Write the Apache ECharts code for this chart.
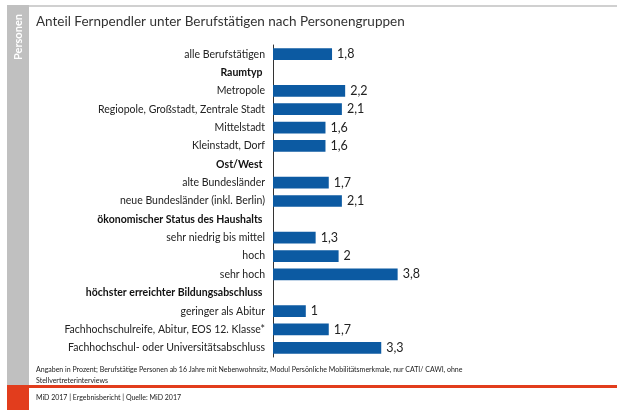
<!DOCTYPE html>
<html>
<head>
<meta charset="utf-8">
<script src="https://cdn.jsdelivr.net/npm/echarts@6/dist/echarts.min.js"></script>
<style>
  html, body { margin: 0; padding: 0; background: #fff; }
  #chart { width: 617px; height: 410px; }
</style>
</head>
<body>
<div id="chart"></div>
<script>
// categories from top to bottom; group headers have no value
const categories = [
  'alle Berufstätigen',
  'Raumtyp',
  'Metropole',
  'Regiopole, Großstadt, Zentrale Stadt',
  'Mittelstadt',
  'Kleinstadt, Dorf',
  'Ost/West',
  'alte Bundesländer',
  'neue Bundesländer (inkl. Berlin)',
  'ökonomischer Status des Haushalts',
  'sehr niedrig bis mittel',
  'hoch',
  'sehr hoch',
  'höchster erreichter Bildungsabschluss',
  'geringer als Abitur',
  'Fachhochschulreife, Abitur, EOS 12. Klasse*',
  'Fachhochschul- oder Universitätsabschluss'
];
const headers = ['Raumtyp', 'Ost/West', 'ökonomischer Status des Haushalts', 'höchster erreichter Bildungsabschluss'];
const values = [1.8, null, 2.2, 2.1, 1.6, 1.6, null, 1.7, 2.1, null, 1.3, 2, 3.8, null, 1, 1.7, 3.3];

const titleText = 'Anteil Fernpendler unter Berufstätigen nach Personengruppen';
const sideText = 'Personen';
const noteText = 'Angaben in Prozent; Berufstätige Personen ab 16 Jahre mit Nebenwohnsitz, Modul Persönliche Mobilitätsmerkmale, nur CATI/ CAWI, ohne\nStellvertreterinterviews';
const footerText = 'MiD 2017 | Ergebnisbericht | Quelle: MiD 2017';

const font = 'Lato';
const chart = echarts.init(document.getElementById('chart'));

chart.setOption({
  animation: false,
  textStyle: { fontFamily: font },
  grid: { left: 273, top: 45, width: 328, height: 312, containLabel: false },
  xAxis: {
    type: 'value',
    min: 0,
    max: 10,
    show: false
  },
  yAxis: {
    type: 'category',
    inverse: true,
    data: categories,
    axisTick: { show: false },
    axisLine: { show: true, lineStyle: { color: '#333', width: 1 } },
    axisLabel: {
      margin: 8,
      fontSize: 10.5,
      color: '#222',
      fontFamily: font,
      formatter: (v) => headers.includes(v) ? '{b|' + v + ' }' : v,
      rich: { b: { fontWeight: 'bold', fontSize: 10.5, color: '#111', fontFamily: font } }
    }
  },
  series: [{
    type: 'bar',
    data: values,
    barCategoryGap: '36%',
    itemStyle: { color: '#0c5aa2' },
    label: {
      show: true,
      position: 'right',
      distance: 5,
      fontSize: 12.5,
      color: '#222',
      fontFamily: font,
      formatter: (p) => String(p.value).replace('.', ',')
    }
  }],
  graphic: [
    // top grey rule
    { type: 'rect', shape: { x: 29, y: 5, width: 588, height: 2 }, style: { fill: '#d0d0d0' } },
    // left grey sidebar
    { type: 'rect', shape: { x: 7, y: 5, width: 22, height: 380 }, style: { fill: '#c0c0c0' } },
    {
      type: 'text', x: 18, y: 37, rotation: Math.PI / 2,
      style: { text: sideText, fill: '#fff', font: 'bold 11px ' + font, textAlign: 'center', textVerticalAlign: 'middle' }
    },
    // bottom red rule and box
    { type: 'rect', shape: { x: 29, y: 385, width: 588, height: 3 }, style: { fill: '#e23d1d' } },
    { type: 'rect', shape: { x: 7, y: 385, width: 22, height: 25 }, style: { fill: '#e23d1d' } },
    {
      type: 'text', x: 36, y: 22,
      style: { text: titleText, fill: '#333', font: '13.5px ' + font, textVerticalAlign: 'middle' }
    },
    {
      type: 'text', x: 36, y: 364,
      style: { text: noteText, fill: '#1a1a1a', font: '7px ' + font, lineHeight: 11 }
    },
    {
      type: 'text', x: 36, y: 398,
      style: { text: footerText, fill: '#1a1a1a', font: '7px ' + font, textVerticalAlign: 'middle' }
    }
  ]
});
</script>
</body>
</html>
